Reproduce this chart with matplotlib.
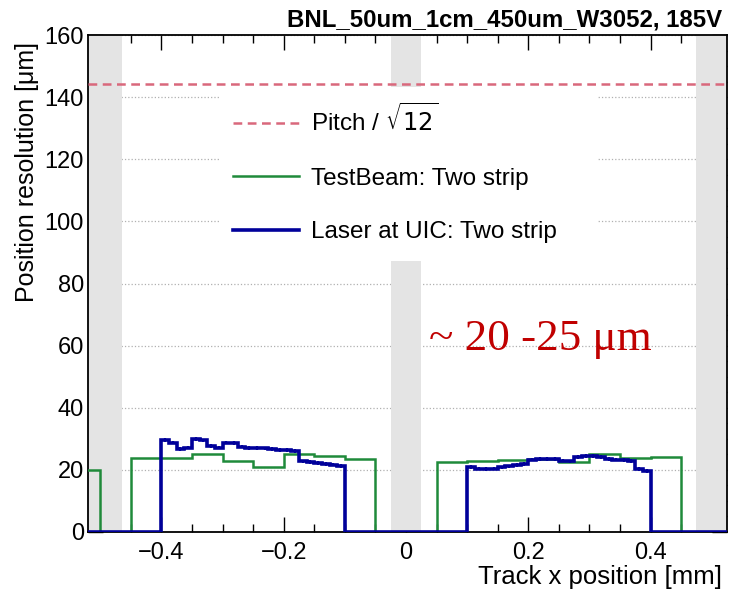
import numpy as np
import matplotlib.pyplot as plt
from matplotlib.ticker import MultipleLocator, FuncFormatter
from matplotlib.patches import Rectangle
from matplotlib.lines import Line2D

plt.rcParams['font.family'] = ['Liberation Sans', 'DejaVu Sans']

# TestBeam two-strip resolution [um], 0.05 mm bins from -0.55 to 0.55 mm
tb_lo, tb_hi, tb_width = -0.55, 0.55, 0.05
tb_res = [20.0, 0.0, 23.8, 23.8, 25.0, 22.9, 20.9, 25.2, 24.4, 23.4, 0.0,
          0.0, 22.4, 22.9, 23.3, 23.4, 22.4, 25.0, 23.8, 24.2, 0.0, 0.0]

# Laser at UIC two-strip resolution [um], 0.0125 mm bins
laser_width = 0.0125
laser_left_x0 = -0.4
laser_left = [29.6, 28.8, 26.7, 27.2, 29.9, 29.5, 27.7, 27.2, 28.8, 28.6, 27.5, 27.1,
              27.0, 26.9, 26.7, 26.5, 26.3, 26.0, 22.7, 22.5, 22.3, 22.0, 21.7, 21.3]
laser_right_x0 = 0.1
laser_right = [20.9, 20.4, 20.2, 20.4, 20.8, 21.1, 21.6, 21.9, 23.3, 23.5, 23.5, 23.4,
               23.0, 22.7, 24.2, 24.5, 24.4, 24.2, 23.5, 23.3, 23.1, 22.9, 20.3, 19.7]
laser_err = 0.6

pitch_um = 500.0
metal_bands = [(-0.525, -0.465), (-0.025, 0.025), (0.475, 0.525)]

green = '#1f8a3a'
blue = '#00009a'
pink = '#d9687c'

# build the histograms
tb_edges = np.linspace(tb_lo, tb_hi, len(tb_res) + 1)
n_laser = int(round((tb_hi - tb_lo) / laser_width))
laser_edges = np.linspace(tb_lo, tb_hi, n_laser + 1)
laser_vals = np.zeros(n_laser)
i0 = int(round((laser_left_x0 - tb_lo) / laser_width))
laser_vals[i0:i0 + len(laser_left)] = laser_left
i1 = int(round((laser_right_x0 - tb_lo) / laser_width))
laser_vals[i1:i1 + len(laser_right)] = laser_right
laser_centers = 0.5 * (laser_edges[:-1] + laser_edges[1:])
has_laser = laser_vals > 0


def xfmt(v, pos):
    if abs(v) < 1e-9:
        return '0'
    return ('%g' % round(v, 3)).replace('-', '\u2212')


fig = plt.figure(figsize=(7.3, 5.91), dpi=100)
ax = fig.add_axes([88 / 730, 1 - 532 / 591, 639 / 730, 497 / 591])

ax.set_xlim(-0.52, 0.525)
ax.set_ylim(0, 160)

ax.set_axisbelow(True)
ax.yaxis.grid(True, linestyle=':', color='#b0b0b0', linewidth=0.9)

for a, b in metal_bands:
    ax.axvspan(a, b, color='#e4e4e4', lw=0, zorder=0.8)

# white box behind the legend
ax.add_patch(Rectangle((-0.304, 87.2), 0.618, 56.0, facecolor='white',
                       edgecolor='none', zorder=1))

ax.axhline(pitch_um / np.sqrt(12), color=pink, lw=1.8, dashes=(3.5, 2.2), zorder=3)

ax.stairs(tb_res, tb_edges, baseline=None, color=green, lw=1.8, zorder=4)
ax.stairs(laser_vals, laser_edges, baseline=None, color=blue, lw=2.6, zorder=5)
ax.errorbar(laser_centers[has_laser], laser_vals[has_laser], yerr=laser_err,
            fmt='none', ecolor=blue, elinewidth=1.6, zorder=5)

ax.text(0.037, 58.5, '~ 20 -25 \u03bcm', color='#c00000', fontsize=32.5,
        family=['Liberation Serif', 'DejaVu Serif'], va='baseline', zorder=6)

handles = [Line2D([], [], color=pink, lw=1.8, dashes=(3.5, 2.2)),
           Line2D([], [], color=green, lw=1.8),
           Line2D([], [], color=blue, lw=2.6)]
labels = ['Pitch / $\\sqrt{12}$', 'TestBeam: Two strip', 'Laser at UIC: Two strip']
ax.legend(handles, labels, loc='upper left', bbox_to_anchor=(0.227, 0.862),
          frameon=False, fontsize=17.5, handlelength=2.7, handletextpad=0.5,
          labelspacing=1.3, borderpad=0, borderaxespad=0)

ax.xaxis.set_major_locator(MultipleLocator(0.2))
ax.xaxis.set_minor_locator(MultipleLocator(0.05))
ax.xaxis.set_major_formatter(FuncFormatter(xfmt))
ax.yaxis.set_major_locator(MultipleLocator(20))
ax.yaxis.set_minor_locator(MultipleLocator(5))
ax.tick_params(which='both', direction='in', top=True, right=True, labelsize=17,
               width=1.0, color='black')
ax.tick_params(which='major', length=11)
ax.tick_params(which='minor', length=6)
ax.tick_params(axis='x', pad=7)
ax.tick_params(axis='y', pad=3)
for s in ax.spines.values():
    s.set_linewidth(1.3)

fig.text(0.989, 1 - 27 / 591, 'BNL_50um_1cm_450um_W3052, 185V', ha='right',
         va='baseline', fontsize=17.3, fontweight='bold')
fig.text(0.989, 1 - 584 / 591, 'Track x position [mm]', ha='right',
         va='baseline', fontsize=18.5)
fig.text(0.037, 1 - 42 / 591, 'Position resolution [\u03bcm]', rotation=90,
         ha='center', va='top', fontsize=18)

fig.savefig('out.png', dpi=100)
